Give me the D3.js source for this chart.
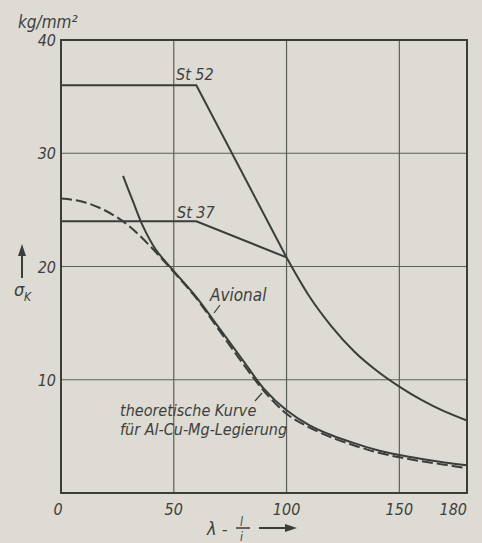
<!DOCTYPE html>
<html>
<head>
<meta charset="utf-8">
<script src="https://cdn.jsdelivr.net/npm/d3@7"></script>
<style>
  html, body { margin: 0; padding: 0; background: #dddbd3; }
  svg text { font-family: "Liberation Sans Narrow", "DejaVu Sans Condensed", sans-serif; font-style: italic; fill: #3e403d; }
</style>
</head>
<body>
<svg id="chart"></svg>
<script>
// values (lambda, sigma_K in kg/mm^2)
let xTicks = [0, 50, 100, 150, 180];
let yTicks = [10, 20, 30, 40];
let xGrid = [50, 100, 150];
let yGrid = [10, 20, 30];

let st52 = [[0, 36], [60, 36], [100, 20.8]];
let st37 = [[0, 24], [60, 24], [100, 20.8]];
// Euler branch shared by both steels
let eulerSteel = [[100, 20.8], [110, 17.4], [120, 14.7], [130, 12.5], [140, 10.8],
                  [150, 9.4], [160, 8.2], [170, 7.2], [180, 6.4]];
let avional = [[27.5, 28.0], [32, 25.7], [36, 23.7], [42, 21.5], [50, 19.6], [60, 17.3], [70, 14.6],
               [80, 11.9], [90, 9.2], [100, 7.3], [110, 6.0], [120, 5.1], [130, 4.4],
               [140, 3.8], [150, 3.35], [160, 3.0], [170, 2.7], [180, 2.45]];
let theory = [[0, 26.0], [10, 25.7], [20, 24.9], [30, 23.6], [40, 21.7], [50, 19.5],
              [60, 17.2], [70, 14.4], [80, 11.6], [90, 9.0], [100, 7.0], [110, 5.8],
              [120, 4.9], [130, 4.2], [140, 3.6], [150, 3.15], [160, 2.8], [170, 2.5], [180, 2.2]];

let width = 482;
let height = 543;
let margin = ({top: 40, right: 15, bottom: 50, left: 61});
let ink = "#3a3d3a";

let svg = d3.select("#chart").attr("width", width).attr("height", height);

let xScale = d3.scaleLinear()
  .domain([0, 180])
  .range([margin.left, width - margin.right]);
let yScale = d3.scaleLinear()
  .domain([0, 40])
  .range([height - margin.bottom, margin.top]);

// grid
svg.append("g").selectAll("line").data(xGrid).enter().append("line")
  .attr("x1", d => xScale(d)).attr("x2", d => xScale(d))
  .attr("y1", yScale(0)).attr("y2", yScale(40))
  .attr("stroke", "#5c605b").attr("stroke-width", 1.2);
svg.append("g").selectAll("line").data(yGrid).enter().append("line")
  .attr("x1", xScale(0)).attr("x2", xScale(180))
  .attr("y1", d => yScale(d)).attr("y2", d => yScale(d))
  .attr("stroke", "#5c605b").attr("stroke-width", 1.2);

// frame
svg.append("rect")
  .attr("x", xScale(0)).attr("y", yScale(40))
  .attr("width", xScale(180) - xScale(0)).attr("height", yScale(0) - yScale(40))
  .attr("fill", "none").attr("stroke", ink).attr("stroke-width", 2);

// tick labels
svg.append("g").selectAll("text").data(yTicks).enter().append("text")
  .attr("x", xScale(0) - 5).attr("y", d => yScale(d) + 6)
  .attr("text-anchor", "end").attr("font-size", 16)
  .text(d => d);
svg.append("g").selectAll("text").data(xTicks).enter().append("text")
  .attr("x", d => xScale(d) + (d == 0 ? -3 : 0)).attr("y", yScale(0) + 22)
  .attr("text-anchor", d => d == 180 ? "end" : "middle").attr("font-size", 16)
  .text(d => d);

// curves
let line = d3.line().x(d => xScale(d[0])).y(d => yScale(d[1]));
let smooth = d3.line().x(d => xScale(d[0])).y(d => yScale(d[1])).curve(d3.curveMonotoneX);
let round = d3.line().x(d => xScale(d[0])).y(d => yScale(d[1])).curve(d3.curveCatmullRom.alpha(0.5));

svg.append("path").attr("d", line(st52))
  .attr("fill", "none").attr("stroke", ink).attr("stroke-width", 2);
svg.append("path").attr("d", line(st37))
  .attr("fill", "none").attr("stroke", ink).attr("stroke-width", 2);
svg.append("path").attr("d", smooth(eulerSteel))
  .attr("fill", "none").attr("stroke", ink).attr("stroke-width", 2);
svg.append("path").attr("d", round(avional))
  .attr("fill", "none").attr("stroke", ink).attr("stroke-width", 2);
svg.append("path").attr("d", smooth(theory))
  .attr("fill", "none").attr("stroke", ink).attr("stroke-width", 2)
  .attr("stroke-dasharray", "11,4");

// curve labels
svg.append("text").attr("x", 176).attr("y", 80).attr("font-size", 16).text("St 52");
svg.append("text").attr("x", 177).attr("y", 218).attr("font-size", 16).text("St 37");
svg.append("text").attr("x", 210).attr("y", 301).attr("font-size", 17).text("Avional");
svg.append("line").attr("x1", 220).attr("y1", 305).attr("x2", 214).attr("y2", 313)
  .attr("stroke", ink).attr("stroke-width", 1.2);
svg.append("text").attr("x", 120).attr("y", 416).attr("font-size", 16).text("theoretische Kurve");
svg.append("text").attr("x", 120).attr("y", 435).attr("font-size", 16).text("für Al-Cu-Mg-Legierung");
svg.append("line").attr("x1", 255).attr("y1", 401).attr("x2", 262).attr("y2", 393)
  .attr("stroke", ink).attr("stroke-width", 1.2);

// y axis unit and symbol
svg.append("text").attr("x", 18).attr("y", 28).attr("font-size", 17).text("kg/mm²");
svg.append("line").attr("x1", 22).attr("y1", 278).attr("x2", 22).attr("y2", 252)
  .attr("stroke", ink).attr("stroke-width", 2);
svg.append("path").attr("d", "M22,244 L18,256 L26,256 Z").attr("fill", ink);
svg.append("text").attr("x", 14).attr("y", 296).attr("font-size", 18).text("σ");
svg.append("text").attr("x", 24).attr("y", 301).attr("font-size", 12).text("K");

// x axis label: lambda = l / i  ->
svg.append("text").attr("x", 207).attr("y", 535).attr("font-size", 18).text("λ -");
svg.append("text").attr("x", 240).attr("y", 526).attr("font-size", 12).text("l");
svg.append("line").attr("x1", 236).attr("y1", 528).attr("x2", 250).attr("y2", 528)
  .attr("stroke", ink).attr("stroke-width", 1.5);
svg.append("text").attr("x", 240).attr("y", 541).attr("font-size", 12).text("i");
svg.append("line").attr("x1", 259).attr("y1", 528).attr("x2", 288).attr("y2", 528)
  .attr("stroke", ink).attr("stroke-width", 2);
svg.append("path").attr("d", "M297,528 L285,524 L285,532 Z").attr("fill", ink);
</script>
</body>
</html>
